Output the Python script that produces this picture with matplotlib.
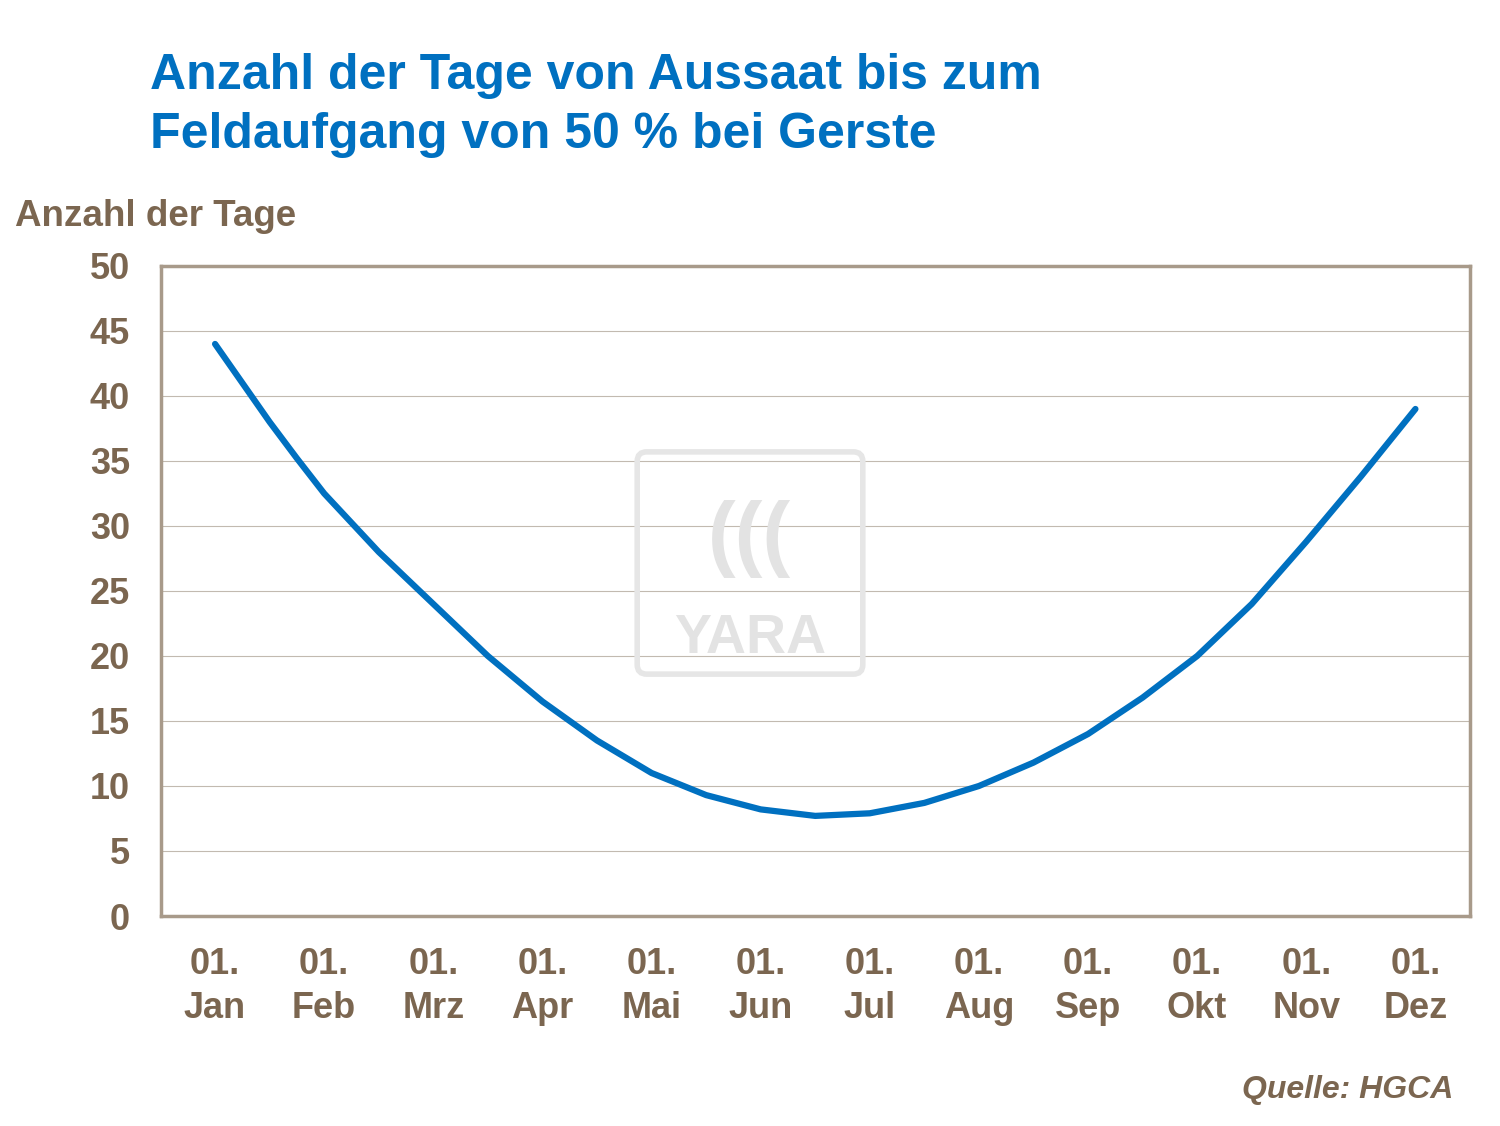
import matplotlib
matplotlib.use("Agg")
import matplotlib.pyplot as plt
from matplotlib.patches import FancyBboxPatch

plt.rcParams["font.family"] = "Liberation Sans"
months = ["01.\nJan","01.\nFeb","01.\nMrz","01.\nApr","01.\nMai","01.\nJun",
          "01.\nJul","01.\nAug","01.\nSep","01.\nOkt","01.\nNov","01.\nDez"]
x_pos = [0,0.25,0.5,0.75,1,1.5,2,2.5,3,3.5,4,4.5,5,5.5,6,6.5,7,7.5,8,8.5,9,9.5,10,10.5,11]
days = [44,41,38,35.2,32.5,28,24,20,16.5,13.5,11,9.3,8.2,7.7,7.9,8.7,10,11.8,14,16.8,20,24,28.8,33.8,39]
yticks = list(range(0,51,5))

brown = "#7B6650"
blue = "#0070C0"
fig = plt.figure(figsize=(15,11.26), dpi=100)
ax = fig.add_axes([0.107,0.1865,0.873,0.5773])
ax.set_xlim(-0.5,11.5); ax.set_ylim(0,50)
for y in yticks[1:]:
    ax.axhline(y,color="#C2BAB0",lw=0.8,zorder=1)
wm = fig.add_axes([0.42,0.395,0.16,0.21]); wm.axis("off")
wm.add_patch(FancyBboxPatch((0.03,0.03),0.94,0.94,boxstyle="round,pad=0,rounding_size=0.04",
             fc="none",ec="#E6E6E6",lw=4,transform=wm.transAxes))
wm.text(0.5,0.18,"YARA",ha="center",va="center",fontsize=40,fontweight="bold",color="#E3E3E3",transform=wm.transAxes)
wm.text(0.5,0.6,"(((",ha="center",va="center",fontsize=60,fontweight="bold",color="#E3E3E3",transform=wm.transAxes)
ax.plot(x_pos,days,color=blue,lw=4.5,zorder=3,solid_capstyle="round",solid_joinstyle="round")
ax.set_yticks(yticks)
ax.set_xticks(range(12)); ax.set_xticklabels(months)
ax.tick_params(length=0,labelsize=26,colors=brown)
ax.tick_params(axis="x",pad=22)
ax.tick_params(axis="y",pad=22)
for l in ax.get_xticklabels()+ax.get_yticklabels(): l.set_fontweight("bold")
for l in ax.get_xticklabels(): l.set_linespacing(1.35)
for s in ax.spines.values():
    s.set_color("#A89A8A"); s.set_linewidth(2.5)
ax.patch.set_alpha(0)
fig.text(0.1,0.953,"Anzahl der Tage von Aussaat bis zum\nFeldaufgang von 50 % bei Gerste",
         color=blue,fontsize=36,fontweight="bold",va="top",linespacing=1.35)
fig.text(0.01,0.808,"Anzahl der Tage",color=brown,fontsize=26.5,fontweight="bold",va="center")
fig.text(0.969,0.025,"Quelle: HGCA",color=brown,fontsize=23,fontweight="bold",style="italic",ha="right")
fig.savefig("out.png")
